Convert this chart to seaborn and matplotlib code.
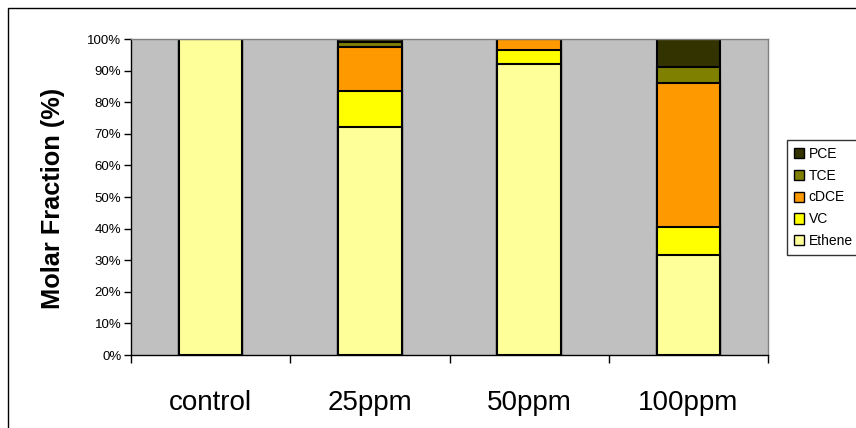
import matplotlib
matplotlib.use("Agg")
import matplotlib.pyplot as plt
import matplotlib.patches as mpatches
import seaborn as sns
import pandas as pd
import numpy as np

# Molar fraction (%) of each compound per treatment
categories = ["control", "25ppm", "50ppm", "100ppm"]
ethene = [100.0, 72.0, 92.0, 31.5]
vc = [0.0, 11.5, 4.5, 9.0]
cdce = [0.0, 14.0, 3.5, 45.5]
tce = [0.0, 1.5, 0.0, 5.0]
pce = [0.0, 1.0, 0.0, 9.0]

series_names = ["Ethene", "VC", "cDCE", "TCE", "PCE"]
series_values = [ethene, vc, cdce, tce, pce]
colors = {"Ethene": "#FFFF99", "VC": "#FFFF00", "cDCE": "#FF9900",
          "TCE": "#808000", "PCE": "#333300"}
y_ticks = list(range(0, 101, 10))

sns.set_theme(style="white")
plt.rcParams["font.family"] = ["Liberation Sans", "DejaVu Sans"]
plt.rcParams["text.color"] = "black"
plt.rcParams["xtick.color"] = "black"
plt.rcParams["ytick.color"] = "black"
plt.rcParams["axes.labelcolor"] = "black"

fig = plt.figure(figsize=(8.56, 4.28), dpi=100)
ax = fig.add_axes([131 / 856, 1 - 355 / 428, (768 - 131) / 856, (355 - 39) / 428])
ax.set_facecolor("#C0C0C0")

# cumulative tops, drawn from the highest layer downward so each layer overlays the next
cum = np.cumsum(np.array(series_values), axis=0)
for name, tops in reversed(list(zip(series_names, cum))):
    df = pd.DataFrame({"cat": categories, "val": tops})
    sns.barplot(data=df, x="cat", y="val", order=categories, color=colors[name],
                width=0.4, edgecolor="black", linewidth=1.5, ax=ax, saturation=1)

ax.set_ylim(0, 100)
ax.set_xlim(-0.5, len(categories) - 0.5)
ax.set_yticks(y_ticks)
ax.set_yticklabels([f"{t}%" for t in y_ticks], fontsize=9.5)
ax.set_xticks(range(len(categories)))
ax.set_xticklabels(categories, fontsize=20)
ax.tick_params(axis="x", length=0, pad=25)
ax.tick_params(axis="y", length=5, width=1, direction="out", left=True, pad=2)
# category separator ticks on the x axis
ax.set_xticks(np.arange(-0.5, len(categories), 1.0), minor=True)
ax.tick_params(axis="x", which="minor", length=6, width=1, direction="out", bottom=True)

ax.set_xlabel("")
ax.set_ylabel("Molar Fraction (%)", fontsize=18.3, fontweight="bold")
ax.yaxis.set_label_coords(-0.104, 0.495)

for side in ["left", "bottom"]:
    ax.spines[side].set_color("black")
    ax.spines[side].set_linewidth(1)
for side in ["top", "right"]:
    ax.spines[side].set_color("#808080")
    ax.spines[side].set_linewidth(1)
ax.grid(False)

handles = [mpatches.Patch(facecolor=colors[n], edgecolor="black", linewidth=1, label=n)
           for n in reversed(series_names)]
leg = fig.legend(handles=handles, loc="upper left", bbox_to_anchor=(787 / 856, 1 - 140 / 428),
                 fontsize=10, frameon=True, fancybox=False, handlelength=0.75, handleheight=0.75,
                 handletextpad=0.3, labelspacing=0.56, borderpad=0.5, borderaxespad=0)
leg.get_frame().set_edgecolor("black")
leg.get_frame().set_linewidth(1)

# outer chart border
fig.patches.append(mpatches.Rectangle((8 / 856, -0.05), 1.2, 1 - 8 / 428 + 0.05,
                                      transform=fig.transFigure, fill=False,
                                      edgecolor="black", linewidth=1))

fig.savefig("out.png", dpi=100)
